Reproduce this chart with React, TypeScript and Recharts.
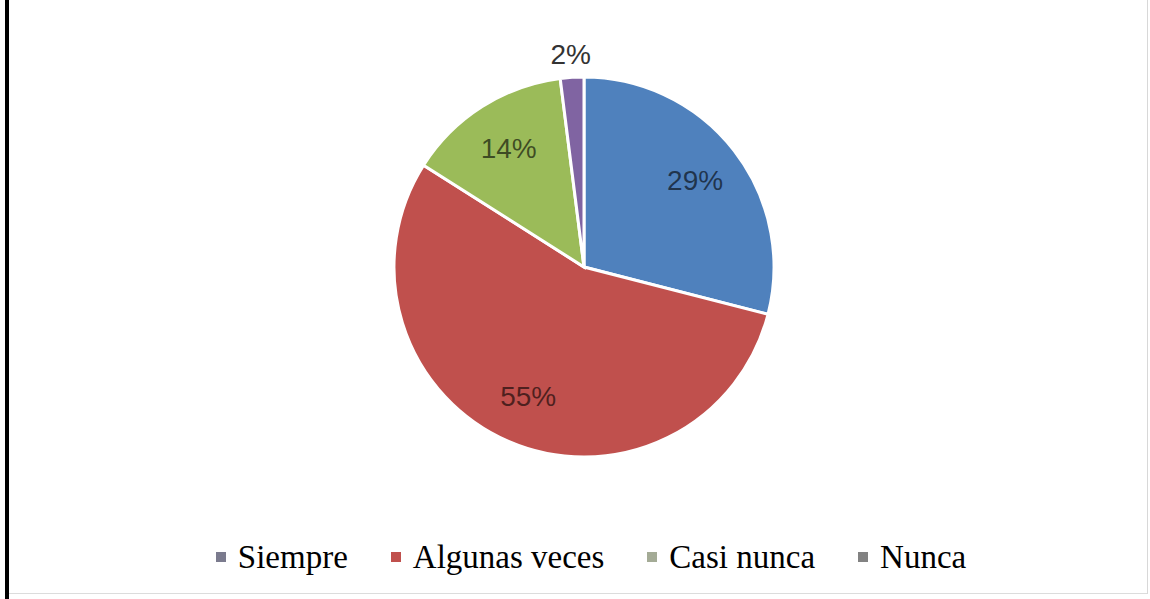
import { PieChart, Pie, Cell, Legend } from 'recharts'

// Answer shares, clockwise from 12 o'clock
const categories = ['Siempre', 'Algunas veces', 'Casi nunca', 'Nunca']
const shares = [29, 55, 14, 2]
const sliceColors = ['#4F81BD', '#C0504D', '#9BBB59', '#8064A2']
const legendColors = ['#7b7b8e', '#c0504d', '#a4ab96', '#828282']

const data = categories.map((name, i) => ({ name, value: shares[i] }))

const RADIAN = Math.PI / 180

const renderLabel = ({ cx, cy, midAngle, outerRadius, percent }: any) => {
  const small = percent < 0.05
  const r = small ? outerRadius + 23 : outerRadius * 0.74
  const x = cx + r * Math.cos(-midAngle * RADIAN)
  const y = cy + r * Math.sin(-midAngle * RADIAN)
  return (
    <text
      x={x}
      y={y}
      textAnchor="middle"
      dominantBaseline="central"
      fontFamily="'Liberation Sans', Arial, sans-serif"
      fontSize={28}
      fill={small ? '#333' : '#000'}
      fillOpacity={small ? 1 : 0.6}
    >
      {`${Math.round(percent * 100)}%`}
    </text>
  )
}

const renderLegend = () => (
  <div style={{ display: 'flex', justifyContent: 'center', paddingLeft: 32 }}>
    {categories.map((name, i) => (
      <div key={name} style={{ display: 'flex', alignItems: 'center', marginRight: i < categories.length - 1 ? 43 : 0 }}>
        <span style={{ width: 10, height: 10, background: legendColors[i], marginRight: 12, display: 'inline-block' }} />
        <span style={{ fontFamily: "'Liberation Serif', 'Times New Roman', serif", fontSize: 33, color: '#000', lineHeight: '38px' }}>
          {name}
        </span>
      </div>
    ))}
  </div>
)

export default function App() {
  return (
    <div style={{ position: 'fixed', top: 0, left: 0, width: 1150, height: 599, background: '#fff' }}>
      <div style={{ position: 'absolute', left: 5, top: 0, width: 4, height: 599, background: '#000' }} />
      <div style={{ position: 'absolute', right: 2, top: 0, width: 1, height: 594, background: '#d8d8d8' }} />
      <div style={{ position: 'absolute', left: 9, top: 593, width: 1138, height: 1, background: '#dcdcdc' }} />
      <PieChart width={1150} height={599} margin={{ top: 0, right: 0, bottom: 0, left: 0 }}>
        <Pie
          data={data}
          dataKey="value"
          nameKey="name"
          cx={584}
          cy={267}
          outerRadius={190}
          startAngle={90}
          endAngle={-270}
          stroke="#fff"
          strokeWidth={3}
          label={renderLabel}
          labelLine={false}
          isAnimationActive={false}
        >
          {data.map((d, i) => (
            <Cell key={d.name} fill={sliceColors[i]} />
          ))}
        </Pie>
        <Legend verticalAlign="bottom" content={renderLegend} wrapperStyle={{ bottom: 23 }} />
      </PieChart>
    </div>
  )
}
